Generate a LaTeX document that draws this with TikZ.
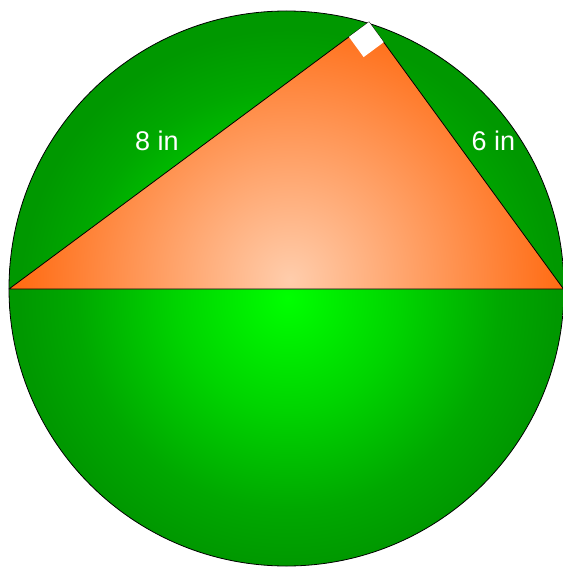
\documentclass[tikz,border=0pt]{standalone}
\usepackage{fontspec}
\setmainfont{Liberation Sans}
\usetikzlibrary{calc}
\definecolor{gA}{RGB}{0,255,0}
\definecolor{gB}{RGB}{0,212,0}
\definecolor{gC}{RGB}{0,168,0}
\definecolor{gD}{RGB}{0,152,0}
\definecolor{oIn}{RGB}{255,205,172}
\definecolor{oOut}{RGB}{255,104,14}
\pgfdeclareradialshading{greenrad}{\pgfpoint{0bp}{0bp}}{color(0bp)=(gA); color(8.75bp)=(gB); color(16.5bp)=(gC); color(21bp)=(gD); color(50bp)=(gD)}
\pgfdeclareradialshading{orangerad}{\pgfpoint{0bp}{0bp}}{color(0bp)=(oIn); color(22bp)=(oOut); color(50bp)=(oOut)}
\begin{document}
\begin{tikzpicture}[x=1pt,y=-1pt,
  edge/.style={draw=black,line width=0.8pt,line join=round},
  lbl/.style={text=white,font=\fontsize{27}{27}\selectfont,inner sep=0pt}]
\useasboundingbox (0,0) rectangle (562,569);
\coordinate (O) at (286.5,288.5);
\coordinate (L) at (9,289);
\coordinate (R) at (563.5,289);
\coordinate (A) at (369,22);
% circle
\begin{scope}
  \clip (O) circle (277.5pt);
  \shade[shading=greenrad] (288,298) circle (320pt);
\end{scope}
\draw[line width=0.8pt] (O) circle (277.5pt);
% triangle
\begin{scope}
  \clip (L) -- (A) -- (R) -- cycle;
  \shade[shading=orangerad] (290,280) circle (320pt);
\end{scope}
\draw[edge] (L) -- (A) -- (R) -- cycle;
% right angle marker
\coordinate (P1) at ($(A)!25pt!(L)$);
\coordinate (P2) at ($(A)!25pt!(R)$);
\coordinate (C) at ($(P1)+(P2)-(A)$);
\fill[white] (A) -- (P1) -- (C) -- (P2) -- cycle;
% labels
\node[lbl] (l8) at (157,141) {8 in};
\node[lbl] (l6) at (493.5,141) {6 in};
\end{tikzpicture}
\end{document}
